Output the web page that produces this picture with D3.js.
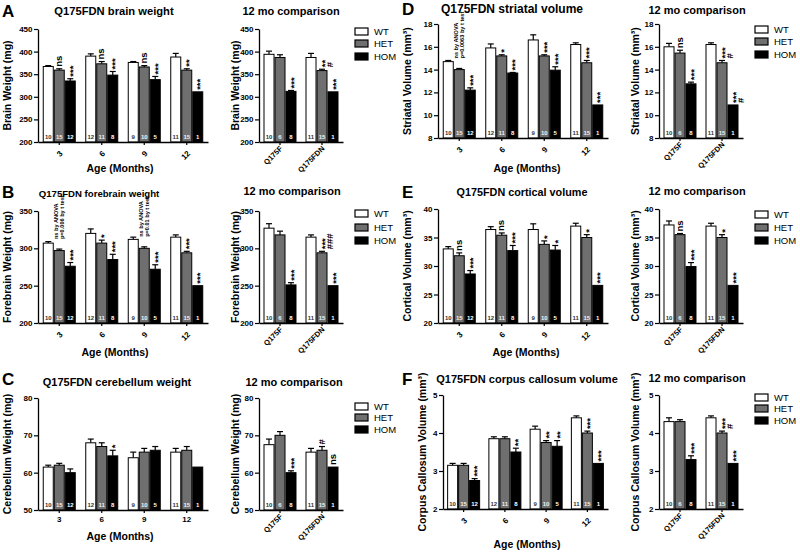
<!DOCTYPE html>
<html><head><meta charset="utf-8">
<script src="https://cdn.jsdelivr.net/npm/d3@7"></script>
<style>body{margin:0;background:#fff}svg{display:block}</style>
</head><body><svg id="c" width="800" height="554"></svg>
<script>
// ---------- shared categories ----------
const genotypes = ["WT", "HET", "HOM"];
const ageLabels = ["3", "6", "9", "12"];
const lineLabels = ["Q175F", "Q175FDN"];
const ageN = [[10,15,12],[12,11,8],[9,10,5],[11,15,1]];
const lineN = [[10,6,8],[11,15,1]];

// ---------- A: brain weight (mg) ----------
const brainTicks = [200,250,300,350,400,450];
const brainAge = [[367,359,335],[390,373,348],[376,366,338],[388,359,311]];
const brainAgeErr = [[2,3,5],[5,5,8],[2,3,7],[8,3,0]];
const brainAgeSig = [["","ns","***"],["","ns","***"],["","ns","***"],["","**","***"]];
const brainLine = [[394,387,312],[387,358,311]];
const brainLineErr = [[7,6,2],[9,3,0]];
const brainLineSig = [["","","***"],["","**|#","***"]];

// ---------- B: forebrain weight (mg) ----------
const foreTicks = [200,250,300,350];
const foreAge = [[307,297,276],[320,307,285],[312,300,272],[315,294,250]];
const foreAgeErr = [[2,2,5],[6,4,7],[3,2,6],[3,2,0]];
const foreAgeSig = [["","ns by ANOVA\np=0.006 by t test","***"],["","*","***"],["","ns by ANOVA\np=0.01 by t test","***"],["","***","***"]];
const foreLine = [[327,318,251],[315,294,250]];
const foreLineErr = [[6,5,3],[3,2,0]];
const foreLineSig = [["","","***"],["","***|###","***"]];

// ---------- C: cerebellum weight (mg) ----------
const cereTicks = [50,60,70,80];
const cereAge = [[61.5,62,60],[68,67,64.5],[64,65.5,66],[65.5,66,61.5]];
const cereAgeErr = [[0.5,0.5,1],[1,1,1.5],[1.5,1,1],[1,1,0]];
const cereAgeSig = [["","",""],["","","*"],["","",""],["","",""]];
const cereLine = [[67.5,70,60],[65.5,66,61.5]];
const cereLineErr = [[1.5,1,0.5],[1,1,0]];
const cereLineSig = [["","","***"],["","#","ns"]];

// ---------- D: striatal volume (mm3) ----------
const striTicks = [8,10,12,14,16,18];
const striAge = [[14.7,14.0,12.2],[15.9,15.2,13.7],[16.6,15.2,13.95],[16.2,14.6,10.9]];
const striAgeErr = [[0.1,0.1,0.2],[0.35,0.1,0.05],[0.45,0.1,0.3],[0.15,0.2,0]];
const striAgeSig = [["","ns by ANOVA\np=0.0063 by t test","***"],["","*","***"],["","***","***"],["","***","***"]];
const striLine = [[16.0,15.45,12.75],[16.2,14.6,10.9]];
const striLineErr = [[0.3,0.25,0.15],[0.15,0.2,0]];
const striLineSig = [["","ns","***"],["","***|#","***|#"]];

// ---------- E: cortical volume (mm3) ----------
const cortTicks = [20,25,30,35,40];
const cortAge = [[33.0,31.8,28.6],[36.4,35.4,32.7],[36.4,33.8,32.8],[37.0,35.0,26.6]];
const cortAgeErr = [[0.4,0.5,0.6],[0.5,0.4,0.9],[1.0,0.6,0.8],[0.5,0.5,0]];
const cortAgeSig = [["","ns","***"],["","ns","***"],["","*","*"],["","*","***"]];
const cortLine = [[37.2,35.5,29.9],[37.0,35.0,26.6]];
const cortLineErr = [[0.7,0.2,0.7],[0.5,0.5,0]];
const cortLineSig = [["","ns","***"],["","*","***"]];

// ---------- F: corpus callosum volume (mm3) ----------
const ccTicks = [2,3,4,5];
const ccAge = [[3.15,3.15,2.75],[3.85,3.85,3.5],[4.1,3.75,3.65],[4.4,4.0,3.2]];
const ccAgeErr = [[0.05,0.05,0.05],[0.05,0.05,0.1],[0.08,0.05,0.15],[0.05,0.05,0]];
const ccAgeSig = [["","","***"],["","","**"],["","**","**"],["","***","***"]];
const ccLine = [[4.3,4.3,3.3],[4.4,4.0,3.2]];
const ccLineErr = [[0.1,0.05,0.1],[0.05,0.05,0]];
const ccLineSig = [["","","***"],["","***|#","***"]];

// ---------- drawing ----------
const FONT = 'Arial, "Liberation Sans", Helvetica, sans-serif';
const fills = {WT:"#ffffff", HET:"#6f6f6f", HOM:"#000000"};
const nFill = {WT:"#333333", HET:"#f0f0f0", HOM:"#ffffff"};
const svg = d3.select("#c");
svg.append("rect").attr("width",800).attr("height",554).attr("fill","#fff");

function txt(g, s, x, y, size, weight, anchor, rot) {
  return g.append("text")
    .attr("transform", `translate(${x},${y})` + (rot ? ` rotate(${rot})` : ""))
    .attr("font-family", FONT).attr("font-size", size)
    .attr("font-weight", weight || "normal")
    .attr("text-anchor", anchor || "start")
    .attr("fill", "#000").text(s);
}

function drawSig(g, cx, top, s) {
  if (!s) return;
  if (s.includes("\n")) {
    s.split("\n").forEach((t, i) => txt(g, t, cx - 1 + i * 5.5, top - 10, 5.6, "bold", "start", -90));
    return;
  }
  s.split("|").forEach((t, i) => {
    const fs = 9.5;
    const off = t.includes("*") ? fs * 0.58 : (t.includes("#") ? fs * 0.36 : fs * 0.27);
    txt(g, t, cx + off + i * 8, top - 2, fs, "bold", "start", -90);
  });
}

function chart(g, cats, means, errs, sigs, ns, xr, yr, domain, ticks, catMode) {
  const x = d3.scaleBand().domain(cats).range(xr);
  const xi = d3.scaleBand().domain(genotypes).range([-16, 16]).paddingInner(0.09);
  const y = d3.scaleLinear().domain(domain).range(yr);
  cats.forEach((c, ci) => {
    const cx = x(c) + x.bandwidth() / 2;
    genotypes.forEach((gt, gi) => {
      const m = means[ci][gi], e = errs[ci][gi];
      const bw = xi.bandwidth();
      const bx = cx + xi(gt);
      const mx = bx + bw / 2;
      if (e > 0) {
        g.append("line").attr("x1", mx).attr("x2", mx).attr("y1", y(m)).attr("y2", y(m + e))
          .attr("stroke", "#000").attr("stroke-width", 1.2);
        g.append("line").attr("x1", mx - 3).attr("x2", mx + 3).attr("y1", y(m + e)).attr("y2", y(m + e))
          .attr("stroke", "#000").attr("stroke-width", 1.2);
      }
      g.append("rect").attr("x", bx).attr("y", y(m)).attr("width", bw)
        .attr("height", y(domain[0]) - y(m))
        .attr("fill", fills[gt]).attr("stroke", "#000").attr("stroke-width", 1);
      txt(g, String(ns[ci][gi]), mx, y(domain[0]) - 3, 6, "bold", "middle").attr("fill", nFill[gt]);
      drawSig(g, mx, y(m + e), sigs[ci][gi]);
    });
  });
  const ya = g.append("g").attr("transform", `translate(${xr[0]},0)`)
    .call(d3.axisLeft(y).tickValues(ticks).tickFormat(d3.format("d")).tickSize(4).tickSizeOuter(0).tickPadding(1.5));
  const xa = g.append("g").attr("transform", `translate(0,${yr[0]})`)
    .call(d3.axisBottom(x).tickSize(3).tickSizeOuter(0).tickFormat(""));
  [ya, xa].forEach(a => {
    a.select(".domain").attr("stroke-width", 1.3);
    a.selectAll(".tick line").attr("stroke-width", 1.2);
    a.selectAll("text").attr("font-family", FONT).attr("font-size", 8).attr("font-weight", "bold");
  });
  cats.forEach(c => {
    const cx = x(c) + x.bandwidth() / 2;
    if (catMode === "h") txt(g, c, cx, yr[0] + 12, 8, "bold", "middle");
    else if (catMode === "rot") txt(g, c, cx + 4, yr[0] + 12, 8, "bold", "end", -45);
    else txt(g, c, cx + 3, yr[0] + 7, 7.5, "bold", "end", -45);
  });
}

const panels = [
  {ox:0, letter:"A", letterY:17, title:"Q175FDN brain weight", titleX:114, titleY:15, titleSize:11.2,
   rTitleX:291, rTitleY:15, ylabel:"Brain Weight (mg)", domain:[200,450], ticks:brainTicks, yr:[142,29],
   age:[brainAge, brainAgeErr, brainAgeSig], line:[brainLine, brainLineErr, brainLineSig],
   legendY:[28,40,53], ageX:120, ageY:172, ageMode:"rot", lx:38, lyl:11},
  {ox:0, letter:"B", letterY:198, title:"Q175FDN forebrain weight", titleX:99, titleY:197, titleSize:9.6,
   rTitleX:292, rTitleY:195, ylabel:"Forebrain Weight (mg)", domain:[200,350], ticks:foreTicks, yr:[323,211],
   age:[foreAge, foreAgeErr, foreAgeSig], line:[foreLine, foreLineErr, foreLineSig],
   legendY:[210,224,237], ageX:115, ageY:356, ageMode:"rot", lx:38, lyl:11},
  {ox:0, letter:"C", letterY:385, title:"Q175FDN cerebellum weight", titleX:117, titleY:386, titleSize:11,
   rTitleX:294, rTitleY:386, ylabel:"Cerebellum Weight (mg)", domain:[50,80], ticks:cereTicks, yr:[510,398],
   age:[cereAge, cereAgeErr, cereAgeSig], line:[cereLine, cereLineErr, cereLineSig],
   legendY:[403,414,426], ageX:120, ageY:540, ageMode:"h", lx:38, lyl:11},
  {ox:400, letter:"D", letterY:15, title:"Q175FDN striatal volume", titleX:512, titleY:13, titleSize:12,
   rTitleX:697, rTitleY:14, ylabel:"Striatal Volume (mm³)", domain:[8,18], ticks:striTicks, yr:[138,24],
   age:[striAge, striAgeErr, striAgeSig], line:[striLine, striLineErr, striLineSig],
   legendY:[26,38,51], ageX:527, ageY:172, ageMode:"rot", lx:38, lyl:11},
  {ox:400, letter:"E", letterY:198, title:"Q175FDN cortical volume", titleX:522, titleY:196, titleSize:10.8,
   rTitleX:697, rTitleY:195, ylabel:"Cortical Volume (mm³)", domain:[20,40], ticks:cortTicks, yr:[323,209],
   age:[cortAge, cortAgeErr, cortAgeSig], line:[cortLine, cortLineErr, cortLineSig],
   legendY:[211,224,237], ageX:526, ageY:356, ageMode:"rot", lx:38, lyl:11},
  {ox:400, letter:"F", letterY:385, title:"Q175FDN corpus callosum volume", titleX:527, titleY:383, titleSize:11,
   rTitleX:697, rTitleY:382, ylabel:"Corpus Callosum Volume (mm³)", domain:[2,5], ticks:ccTicks, yr:[509,395],
   age:[ccAge, ccAgeErr, ccAgeSig], line:[ccLine, ccLineErr, ccLineSig],
   legendY:[394,405,417], ageX:527, ageY:548, ageMode:"rot", lx:43, lyl:26}
];

panels.forEach(p => {
  const g = svg.append("g");
  const ox = p.ox;
  txt(g, p.letter, ox + 2, p.letterY, 17, "bold");
  txt(g, p.title, p.titleX, p.titleY, p.titleSize, "bold", "middle");
  txt(g, "12 mo comparison", p.rTitleX, p.rTitleY, 11, "bold", "middle");
  const yc = (p.yr[0] + p.yr[1]) / 2;
  txt(g, p.ylabel, ox + p.lyl, yc, 10.5, "bold", "middle", -90);
  txt(g, p.ylabel, ox + 239, yc, 10.5, "bold", "middle", -90);
  chart(g, ageLabels, p.age[0], p.age[1], p.age[2], ageN, [ox + p.lx, ox + 208], p.yr, p.domain, p.ticks, p.ageMode);
  chart(g, lineLabels, p.line[0], p.line[1], p.line[2], lineN, [ox + 259, ox + 343], p.yr, p.domain, p.ticks, "line");
  txt(g, "Age (Months)", p.ageX, p.ageY, 10.5, "bold", "middle");
  genotypes.forEach((gt, i) => {
    g.append("rect").attr("x", ox + 355).attr("y", p.legendY[i]).attr("width", 13).attr("height", 7)
      .attr("fill", fills[gt]).attr("stroke", "#000").attr("stroke-width", 1.2);
    txt(g, gt, ox + 374, p.legendY[i] + 7, 9.5, "normal");
  });
});
</script>
</body></html>
